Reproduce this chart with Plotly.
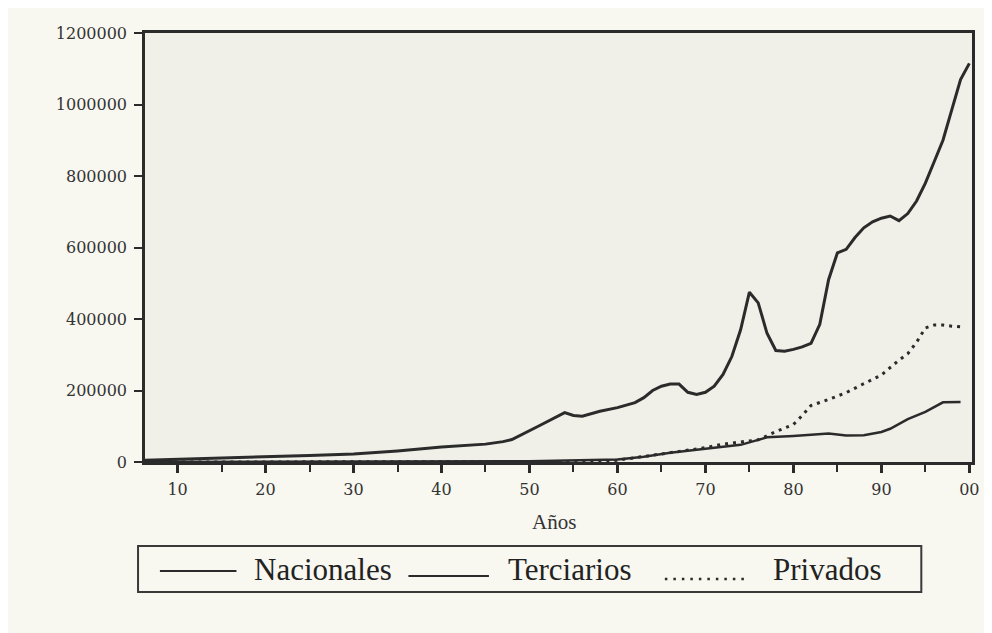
import plotly.graph_objects as go

# ---------------- data ----------------
years_nacionales = [1906, 1910, 1915, 1920, 1925, 1930, 1935, 1940, 1945, 1947,
                    1948, 1951, 1954, 1955, 1956, 1958, 1960, 1962, 1963, 1964,
                    1965, 1966, 1967, 1968, 1969, 1970, 1971, 1972, 1973, 1974,
                    1975, 1976, 1977, 1978, 1979, 1980, 1981, 1982, 1983, 1984,
                    1985, 1986, 1987, 1988, 1989, 1990, 1991, 1992, 1993, 1994,
                    1995, 1996, 1997, 1998, 1999, 2000]
nacionales = [5000, 7500, 10500, 14000, 18000, 22500, 31000, 42000, 50000, 57000,
              63000, 100000, 138000, 130000, 128000, 142000, 152000, 166000, 180000, 200000,
              212000, 218000, 218000, 195000, 189000, 195000, 212000, 245000, 295000, 370000,
              475000, 445000, 360000, 312000, 310000, 315000, 322000, 332000, 385000, 510000,
              585000, 595000, 628000, 655000, 672000, 682000, 688000, 675000, 695000, 730000,
              780000, 840000, 900000, 985000, 1070000, 1115000]

years_terciarios = [1906, 1930, 1950, 1960, 1963, 1966, 1970, 1974, 1976, 1977,
                    1980, 1984, 1986, 1988, 1990, 1991, 1993, 1995, 1997, 1999]
terciarios = [0, 1000, 2000, 7000, 15000, 26000, 36000, 48000, 62000, 69000,
              73000, 80000, 74000, 75000, 84000, 93000, 120000, 140000, 167000, 168000]

years_privados = [1906, 1958, 1960, 1962, 1965, 1968, 1970, 1972, 1974, 1976,
                  1978, 1980, 1981, 1982, 1984, 1986, 1988, 1990, 1992, 1993,
                  1994, 1995, 1996, 1997, 1998, 1999]
privados = [0, 1000, 5000, 12000, 22000, 32000, 40000, 50000, 55000, 62000,
            85000, 105000, 130000, 158000, 175000, 194000, 219000, 243000, 285000, 303000,
            335000, 375000, 383000, 383000, 380000, 378000]

x_tick_years = [1910, 1920, 1930, 1940, 1950, 1960, 1970, 1980, 1990, 2000]
x_tick_labels = ["10", "20", "30", "40", "50", "60", "70", "80", "90", "00"]
x_minor_years = [1915, 1925, 1935, 1945, 1955, 1965, 1975, 1985, 1995]
y_tick_values = [0, 200000, 400000, 600000, 800000, 1000000, 1200000]

legend_labels = ["Nacionales", "Terciarios", "Privados"]
axis_title = "Años"

# ---------------- layout geometry (target page pixels) ----------------
PAGE_W, PAGE_H = 992, 633
BODY = 8                      # default body margin of the html page
W, H = PAGE_W - BODY, PAGE_H - BODY
L, R, T, B = 145, 977, 33, 462
PW, PH = R - L, B - T


def px(x):
    return (x - L) / PW


def py(y):
    return (B - y) / PH


INK = "#2b2b2b"
fig = go.Figure()

fig.add_trace(go.Scatter(x=years_nacionales, y=nacionales, mode="lines",
                         name=legend_labels[0],
                         line=dict(color=INK, width=3)))
fig.add_trace(go.Scatter(x=years_terciarios, y=terciarios, mode="lines",
                         name=legend_labels[1],
                         line=dict(color=INK, width=2.5)))
fig.add_trace(go.Scatter(x=years_privados, y=privados, mode="lines",
                         name=legend_labels[2],
                         line=dict(color=INK, width=3, dash="3px,5px")))

tick_font = dict(family="DejaVu Serif", size=16, color="#333333")

fig.update_xaxes(range=[1906.3, 2000.3], tickmode="array",
                 tickvals=x_tick_years, ticktext=x_tick_labels,
                 ticks="outside", ticklen=8, tickwidth=2.5, tickcolor=INK,
                 minor=dict(tickvals=x_minor_years, ticks="outside", ticklen=7,
                            tickwidth=2, tickcolor=INK),
                 showline=True, linecolor=INK, linewidth=3, mirror=True,
                 showgrid=False, zeroline=False, tickfont=tick_font,
                 ticklabelstandoff=3)
fig.update_yaxes(range=[0, 1200000], tickmode="array", tickvals=y_tick_values,
                 tickformat="d",
                 ticks="outside", ticklen=8, tickwidth=2, tickcolor=INK,
                 showline=True, linecolor=INK, linewidth=2.5, mirror=True,
                 showgrid=False, zeroline=False, tickfont=tick_font,
                 ticklabelstandoff=4)

serif = "Liberation Serif"
annotations = [
    dict(text=axis_title, x=px(556), y=py(522), xref="paper", yref="paper",
         showarrow=False, xanchor="center", yanchor="middle",
         font=dict(family=serif, size=21, color="#333333")),
]
legend_text_x = [253, 508, 775]
for lab, lx in zip(legend_labels, legend_text_x):
    annotations.append(dict(text=lab, x=px(lx), y=py(569), xref="paper", yref="paper",
                            showarrow=False, xanchor="left", yanchor="middle",
                            font=dict(family=serif, size=31, color="#222222")))

shapes = [
    # legend frame
    dict(type="rect", xref="paper", yref="paper", x0=px(138), x1=px(926),
         y0=py(592), y1=py(546), line=dict(color="#3a3a3a", width=2)),
    # legend keys
    dict(type="line", xref="paper", yref="paper", x0=px(160), x1=px(237),
         y0=py(571), y1=py(571), line=dict(color=INK, width=2)),
    dict(type="line", xref="paper", yref="paper", x0=px(410), x1=px(491),
         y0=py(576), y1=py(576), line=dict(color=INK, width=2)),
    dict(type="line", xref="paper", yref="paper", x0=px(668), x1=px(753),
         y0=py(579), y1=py(579), line=dict(color=INK, width=2.5, dash="2.5px,6px")),
]

fig.update_layout(width=W, height=H, autosize=False,
                  margin=dict(l=L - BODY, r=W - (R - BODY), t=T - BODY, b=H - (B - BODY)),
                  paper_bgcolor="#f8f7f0", plot_bgcolor="#f0efe8",
                  showlegend=False, annotations=annotations, shapes=shapes)

fig.write_html("out.html")
